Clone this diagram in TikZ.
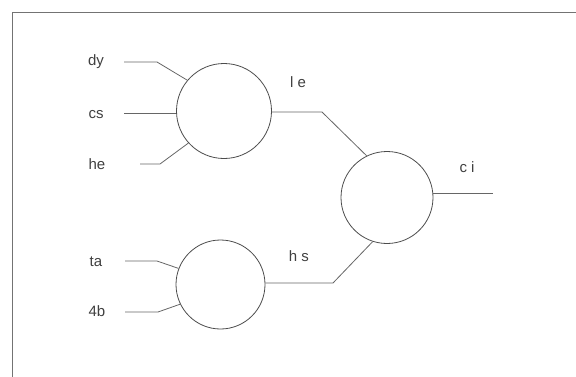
\documentclass[tikz,border=0pt]{standalone}
\usepackage{fontspec}
\setmainfont{Liberation Sans}
\begin{document}
\begin{tikzpicture}[x=1pt,y=-1pt,
  unit/.style={circle,draw=black!70,line width=0.8pt,inner sep=0pt},
  wire/.style={draw=black!60,line width=0.8pt},
  lbl/.style={text=black!75,font=\fontsize{15}{15}\selectfont,inner sep=0pt}]
\useasboundingbox (0,0) rectangle (576,376);
% frame
\draw[black!55,line width=1.3pt] (12.5,380) -- (12.5,12.5) -- (580,12.5);

% units
\node[unit,minimum size=95pt] (c1) at (224,111) {};
\node[unit,minimum size=89pt] (c2) at (220.5,284.5) {};
\node[unit,minimum size=92pt] (c3) at (387,197.5) {};

% labels
\node[lbl] (dy) at (96,62) {dy};
\node[lbl] (cs) at (96,115) {cs};
\node[lbl] (he) at (97,164) {he};
\node[lbl] (ta) at (96,262) {ta};
\node[lbl] (fb) at (97,311) {4b};
\node[lbl] (le) at (298,82) {l e};
\node[lbl] (hs) at (299,256) {h s};
\node[lbl] (ci) at (467,167) {c i};

% wire endpoints and bends
\coordinate (dyS) at (124,62);   \coordinate (dyK) at (157,62);
\coordinate (csS) at (124,113);
\coordinate (heS) at (140,164);  \coordinate (heK) at (160,164);
\coordinate (taS) at (125,261);  \coordinate (taK) at (157,261);
\coordinate (fbS) at (125,312);  \coordinate (fbK) at (158,312);
\coordinate (leK) at (322,112);
\coordinate (hsK) at (333,283);
\coordinate (ciE) at (493,193);

% wires
\draw[wire] (dyS) -- (dyK) -- (c1.140);
\draw[wire] (csS) -- (c1.west |- csS);
\draw[wire] (heS) -- (heK) -- (c1.222);
\draw[wire] (taS) -- (taK) -- (c2.159);
\draw[wire] (fbS) -- (fbK) -- (c2.206);
\draw[wire] (c1.east |- leK) -- (leK) -- (c3.116);
\draw[wire] (c2.east |- hsK) -- (hsK) -- (c3.252);
\draw[wire] (c3.east |- ciE) -- (ciE);
\end{tikzpicture}
\end{document}
